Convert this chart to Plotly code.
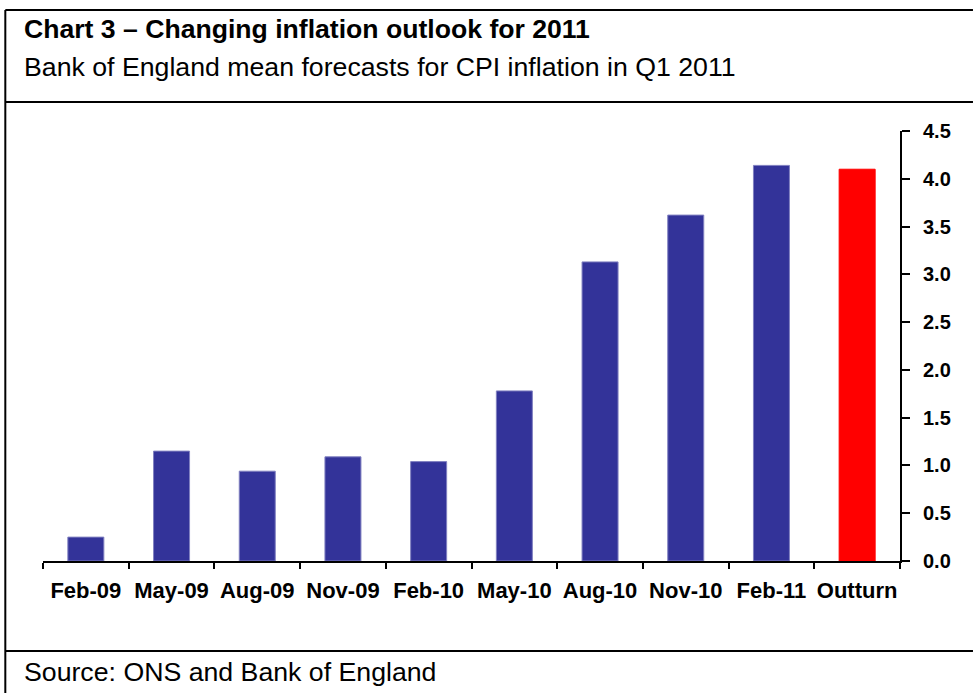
import plotly.graph_objects as go

categories = ["Feb-09", "May-09", "Aug-09", "Nov-09", "Feb-10",
              "May-10", "Aug-10", "Nov-10", "Feb-11", "Outturn"]
forecast_values = [0.25, 1.15, 0.94, 1.09, 1.04, 1.78, 3.13, 3.62, 4.14, 4.10]
is_outturn = [False] * 9 + [True]
y_tick_values = [0.0, 0.5, 1.0, 1.5, 2.0, 2.5, 3.0, 3.5, 4.0, 4.5]

title_text = "Chart 3 \u2013 Changing inflation outlook for 2011"
subtitle_text = "Bank of England mean forecasts for CPI inflation in Q1 2011"
source_text = "Source: ONS and Bank of England"

W, H = 973, 693
L, R, T, B = 42.7, 900.0, 131.0, 561.0  # plot area in pixels
FONT = "Liberation Sans, Arial, sans-serif"

def px(x):
    return (x - L) / (R - L)

def py(y):
    return (B - y) / (B - T)

bar_colors = ["#FF0000" if o else "#333399" for o in is_outturn]
edge_colors = ["#FF0000" if o else "#8080c0" for o in is_outturn]

fig = go.Figure(go.Bar(
    x=categories, y=forecast_values,
    marker=dict(color=bar_colors, line=dict(color=edge_colors, width=1)),
    width=0.42,
))

line_style = dict(color="black", width=2)
shapes = [
    dict(type="line", xref="paper", yref="paper", x0=px(5), x1=px(W), y0=py(10), y1=py(10), line=line_style),
    dict(type="line", xref="paper", yref="paper", x0=px(5), x1=px(5), y0=py(10), y1=py(H), line=line_style),
    dict(type="line", xref="paper", yref="paper", x0=px(5), x1=px(W), y0=py(102), y1=py(102), line=line_style),
    dict(type="line", xref="paper", yref="paper", x0=px(5), x1=px(W), y0=py(651), y1=py(651), line=line_style),
]

annotations = [
    dict(text="<b>" + title_text + "</b>", xref="paper", yref="paper", x=px(22), y=py(29),
         xanchor="left", yanchor="middle", showarrow=False, font=dict(family=FONT, size=26.6, color="black")),
    dict(text=subtitle_text, xref="paper", yref="paper", x=px(22), y=py(67),
         xanchor="left", yanchor="middle", showarrow=False, font=dict(family=FONT, size=26.7, color="black")),
    dict(text=source_text, xref="paper", yref="paper", x=px(22), y=py(672),
         xanchor="left", yanchor="middle", showarrow=False, font=dict(family=FONT, size=26.7, color="black")),
]

fig.update_layout(
    width=W, height=H,
    margin=dict(l=L, r=W - R, t=T, b=H - B, pad=0),
    paper_bgcolor="white", plot_bgcolor="white",
    showlegend=False,
    shapes=shapes, annotations=annotations,
    font=dict(family=FONT, color="black"),
)
fig.update_xaxes(
    type="category", showline=True, linecolor="black", linewidth=2,
    ticks="outside", tickson="boundaries", ticklen=6, tickwidth=2, tickcolor="black",
    tickfont=dict(family=FONT, size=22, color="black", weight="bold"),
    tickangle=0, ticklabelstandoff=9,
    showgrid=False, zeroline=False,
)
fig.update_yaxes(
    side="right", range=[0, 4.5], tickvals=y_tick_values, tickformat=".1f",
    showline=True, linecolor="black", linewidth=2,
    ticks="outside", ticklen=8, tickwidth=2, tickcolor="black",
    tickfont=dict(family=FONT, size=20, color="black", weight="bold"),
    ticklabelstandoff=9,
    showgrid=False, zeroline=False,
)

fig.write_html(
    "out.html",
    config={"displayModeBar": False},
    post_script=(
        "document.documentElement.style.margin='0';"
        "document.documentElement.style.overflow='hidden';"
        "document.body.style.margin='0';document.body.style.padding='0';"
        "document.body.style.overflow='hidden';"
    ),
)
